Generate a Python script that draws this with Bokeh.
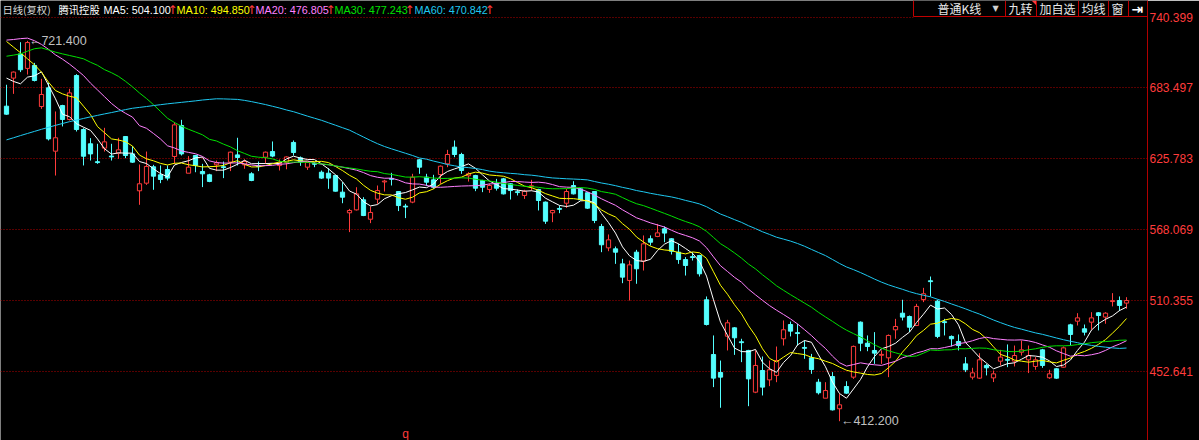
import numpy as np
from bokeh.plotting import figure
from bokeh.models import Range1d, FixedTicker, PrintfTickFormatter
from bokeh.core.properties import value
from bokeh.embed import file_html
from bokeh.resources import INLINE

# ---------------- data ----------------
opens = [668.3, 691.1, 710.8, 699.0, 701.4, 668.0, 683.2, 631.7, 668.8, 657.5,
         693.2, 649.3, 637.7, 622.8, 634.2, 627.4, 630.1, 643.6, 629.5, 599.5,
         605.7, 619.0, 612.5, 616.8, 627.4, 652.6, 613.8, 628.2, 615.2, 612.5,
         620.6, 618.7, 622.8, 628.7, 620.6, 613.3, 619.5, 626.8, 631.4, 620.0,
         622.5, 638.8, 626.3, 618.7, 621.4, 614.6, 613.8, 611.9, 598.4, 581.6,
         584.0, 592.2, 576.4, 592.7, 606.8, 609.2, 598.9, 586.7, 590.3, 624.7,
         610.6, 608.4, 612.7, 621.4, 635.0, 629.0, 611.7, 611.9, 607.9, 600.6,
         605.7, 609.2, 605.2, 598.4, 595.7, 603.0, 600.6, 590.3, 581.6, 584.8,
         589.4, 603.8, 601.1, 597.9, 598.9, 570.5, 553.1, 552.3, 540.1, 526.6,
         549.6, 542.3, 560.5, 562.4, 568.6, 560.5, 549.6, 543.6, 545.6, 546.9,
         510.9, 466.4, 451.8, 481.3, 488.1, 476.4, 469.7, 435.8, 453.4, 445.8,
         449.4, 479.2, 490.8, 483.8, 471.8, 463.7, 443.9, 430.9, 448.5, 422.3,
         440.4, 448.0, 492.7, 475.6, 469.7, 465.9, 463.7, 486.5, 500.0, 497.3,
         490.0, 511.1, 526.0, 509.8, 492.7, 481.1, 477.0, 458.8, 448.0, 447.2,
         457.5, 447.4, 461.0, 462.1, 461.0, 468.3, 462.1, 456.7, 470.2, 447.5,
         454.8, 456.1, 490.5, 493.5, 487.3, 492.7, 500.3, 496.8, 509.5, 510.3,
         508.2]
highs = [685.7, 696.5, 720.3, 721.4, 703.5, 690.5, 687.3, 664.0, 669.4, 682.4,
         694.3, 650.4, 642.3, 637.7, 650.7, 637.7, 642.6, 643.6, 635.8, 620.9,
         631.4, 620.6, 620.1, 620.1, 655.3, 657.2, 627.7, 628.7, 621.4, 613.3,
         624.1, 623.3, 631.4, 642.6, 624.9, 614.6, 623.3, 631.4, 639.6, 625.0,
         627.5, 640.4, 627.4, 623.0, 622.8, 616.0, 617.9, 612.5, 606.5, 584.8,
         602.4, 594.3, 586.7, 603.8, 608.4, 614.1, 599.2, 588.9, 613.3, 625.2,
         613.3, 612.5, 620.1, 632.8, 640.4, 630.4, 614.6, 612.5, 608.4, 605.2,
         609.2, 610.0, 605.7, 600.6, 600.3, 608.4, 601.1, 590.8, 584.0, 587.5,
         601.1, 607.3, 601.9, 598.4, 599.2, 572.6, 564.0, 554.2, 544.2, 542.8,
         551.5, 563.2, 563.2, 572.6, 570.5, 561.0, 556.4, 545.6, 549.6, 547.4,
         513.6, 481.9, 461.5, 494.6, 488.6, 479.2, 470.2, 469.7, 464.8, 461.5,
         472.9, 494.1, 493.2, 491.4, 477.8, 466.9, 446.6, 443.9, 452.1, 434.4,
         444.7, 473.7, 493.3, 481.9, 484.6, 469.7, 482.7, 495.4, 510.9, 498.1,
         507.6, 520.6, 529.8, 510.9, 495.4, 481.9, 482.7, 464.3, 455.6, 467.5,
         458.8, 453.4, 470.2, 474.6, 473.7, 477.8, 473.7, 464.3, 471.0, 454.0,
         455.3, 472.9, 491.4, 500.0, 490.8, 500.8, 500.8, 500.8, 516.3, 513.6,
         513.0]
lows = [661.3, 678.3, 696.0, 694.0, 688.4, 666.1, 640.4, 611.9, 651.8, 656.6,
        647.7, 620.1, 624.1, 621.4, 631.4, 624.1, 625.5, 626.0, 622.2, 588.1,
        604.3, 600.3, 605.7, 607.9, 621.4, 628.2, 613.8, 614.6, 602.5, 606.5,
        615.5, 609.8, 615.5, 620.1, 617.4, 607.3, 615.5, 621.4, 626.8, 616.0,
        617.0, 628.2, 619.8, 616.5, 618.7, 609.2, 601.1, 598.9, 589.4, 565.9,
        583.5, 578.9, 573.2, 588.9, 598.9, 603.8, 583.0, 577.3, 589.4, 613.3,
        603.3, 601.1, 605.2, 618.7, 626.8, 613.3, 607.0, 599.2, 598.4, 597.8,
        599.7, 596.5, 592.4, 595.7, 592.9, 599.7, 583.5, 572.6, 574.0, 581.3,
        585.6, 596.5, 591.6, 584.8, 573.2, 549.6, 550.4, 540.1, 524.4, 510.3,
        523.9, 534.7, 555.0, 561.8, 557.7, 547.7, 540.1, 530.6, 542.8, 529.8,
        490.0, 439.9, 423.1, 469.7, 466.1, 460.2, 424.4, 435.0, 433.1, 440.7,
        443.9, 473.7, 481.1, 473.7, 462.9, 450.7, 433.9, 430.9, 420.9, 412.2,
        434.4, 446.6, 469.1, 469.1, 458.8, 458.8, 448.0, 479.2, 494.1, 484.6,
        489.5, 509.0, 513.6, 479.7, 481.9, 472.9, 469.7, 452.1, 446.1, 446.6,
        449.4, 444.0, 457.5, 456.1, 456.7, 465.6, 451.3, 454.0, 455.6, 446.6,
        446.6, 455.6, 473.7, 490.0, 481.9, 486.5, 486.0, 491.4, 505.5, 501.7,
        503.6]
closes = [661.8, 696.0, 697.9, 720.0, 689.2, 677.8, 641.7, 642.6, 657.5, 679.1,
          649.3, 627.6, 629.5, 622.8, 639.3, 627.4, 632.8, 628.2, 622.8, 605.2,
          619.3, 611.4, 608.7, 609.8, 653.1, 629.5, 618.7, 620.1, 613.3, 607.1,
          622.2, 618.7, 630.9, 626.6, 623.3, 607.9, 619.5, 630.9, 627.7, 622.0,
          627.0, 630.6, 622.8, 622.5, 621.4, 609.8, 609.8, 599.2, 594.3, 583.5,
          597.0, 579.4, 581.9, 599.7, 607.3, 609.2, 587.5, 586.7, 610.6, 618.7,
          606.5, 602.4, 619.5, 629.0, 629.0, 616.0, 613.3, 601.6, 602.4, 603.8,
          601.6, 597.0, 599.7, 598.4, 599.2, 603.4, 591.6, 574.8, 583.5, 584.8,
          598.9, 597.0, 592.2, 585.4, 575.4, 555.6, 559.6, 549.6, 529.3, 539.3,
          536.1, 556.4, 557.7, 565.3, 565.1, 550.4, 543.6, 538.8, 545.6, 532.0,
          490.8, 447.2, 448.0, 492.2, 480.0, 476.4, 446.6, 457.5, 439.9, 454.0,
          461.5, 486.5, 485.4, 483.8, 471.8, 454.2, 435.3, 437.1, 421.4, 425.5,
          435.0, 473.0, 475.6, 472.9, 467.5, 466.4, 481.9, 489.2, 496.8, 488.6,
          505.5, 515.8, 526.0, 481.1, 492.7, 479.2, 473.7, 454.0, 451.5, 462.1,
          455.6, 450.7, 464.3, 462.1, 465.6, 470.2, 465.6, 462.1, 457.5, 450.7,
          447.2, 471.8, 482.7, 496.2, 484.6, 496.2, 498.1, 500.0, 510.1, 506.3,
          510.3]

# moving-average values before enough visible history exists
ma5_head = [691.1, 688.4, 686.5, 691.9]
ma10_head = [720.9, 716.3, 711.7, 706.8, 701.9, 695.9, 687.8, 681.0, 678.3]
ma20_head = [722.0, 722.5, 723.2, 723.6, 721.5, 718.5, 714.5, 710.0, 706.5, 702.5,
             698.0, 693.2, 687.0, 681.5, 676.0, 670.5, 666.0, 662.5, 659.4]
ma30_head = [708.9, 709.8, 710.8, 713.0, 715.0, 715.7, 714.0, 712.2, 710.8, 709.5,
             708.2, 706.8, 704.0, 701.5, 698.0, 695.5, 692.5, 688.5, 684.0, 679.0,
             674.5, 669.5, 664.0, 658.5, 655.0, 652.0, 649.5, 647.3, 645.0]
ma60_head = [640.9, 642.6, 644.4, 646.1, 647.8, 649.5, 651.1, 652.7, 654.2, 655.7,
             657.0, 658.3, 659.6, 660.8, 662.0, 663.1, 664.3, 665.5, 666.6, 667.3,
             668.0, 668.8, 669.5, 670.2, 670.8, 671.4, 672.0, 672.6, 673.3, 673.8,
             674.3, 674.2, 674.0, 673.8, 673.0, 672.0, 670.8, 669.6, 668.2, 666.8,
             665.2, 663.8, 662.0, 660.2, 658.5, 656.8, 654.8, 652.8, 650.8, 648.8,
             646.0, 643.2, 640.4, 637.8, 635.5, 633.6, 631.8, 630.0, 628.2]

ma_periods = [5, 10, 20, 30, 60]
ma_legend_values = [504.100, 494.850, 476.805, 477.243, 470.842]
tick_values = [452.641, 510.355, 568.069, 625.783, 683.497, 740.399]
header_texts = ["日线(复权)", "腾讯控股"]
toolbar_labels = ["普通K线", "九转", "加自选", "均线", "窗"]

# ---------------- derived ----------------
o = np.array(opens); h = np.array(highs); l = np.array(lows); c = np.array(closes)
N = len(c)
idx = np.arange(N)

def moving_average(n, head):
    out = list(head)
    for i in range(len(head), N):
        out.append(float(c[i - n + 1:i + 1].mean()))
    return out

ma_series = [moving_average(5, ma5_head), moving_average(10, ma10_head),
             moving_average(20, ma20_head), moving_average(30, ma30_head),
             moving_average(60, ma60_head)]
ma_colors = ["#ffffff", "#ffff00", "#ff80ff", "#00e000", "#1ec8f0"]

RED = "#ff3c3c"
CYAN = "#54ffff"

# ---------------- layout ----------------
W, H, AXW = 1199, 440, 52
REF_FW, REF_H = 1147.0, 440.0
XL, XR = -6 / 7, (REF_FW - 6) / 7
YB, YT = 396.5, 754.2

def X(px):
    return XL + (XR - XL) * px / REF_FW

def Y(py):
    return YT - (YT - YB) * py / REF_H

p = figure(width=W, height=H, output_backend="svg", toolbar_location=None,
           x_range=Range1d(XL, XR), y_range=Range1d(YB, YT),
           x_axis_location=None, y_axis_location="right",
           min_border_left=0, min_border_top=0, min_border_bottom=0,
           min_border_right=AXW,
           background_fill_color="black", border_fill_color="black",
           outline_line_color=None)

p.xgrid.visible = False
p.ygrid.ticker = FixedTicker(ticks=tick_values)
p.ygrid.grid_line_color = "#b00000"
p.ygrid.grid_line_dash = "1 2"
p.ygrid.grid_line_width = 1

ax = p.yaxis[0]
ax.ticker = FixedTicker(ticks=tick_values)
ax.formatter = PrintfTickFormatter(format="%.3f")
ax.axis_line_color = "#b00000"
ax.major_tick_line_color = None
ax.minor_tick_line_color = None
ax.major_tick_out = 0
ax.major_tick_in = 0
ax.major_label_standoff = 2
ax.major_label_text_color = RED
ax.major_label_text_font = "Liberation Sans"
ax.major_label_text_font_size = "12px"

# ---------------- candles ----------------
top = np.maximum(o, c)
bot = np.minimum(o, c)
mid = (top + bot) / 2
small = (top - bot) < 0.7
btop = np.where(small, mid + 0.35, top)
bbot = np.where(small, mid - 0.35, bot)
up = c > o
dn = ~up
hw = 0.3

p.segment(x0=idx[dn], y0=h[dn], x1=idx[dn], y1=l[dn], line_color=CYAN, line_width=1)
p.quad(left=idx[dn] - hw, right=idx[dn] + hw, top=btop[dn], bottom=bbot[dn],
       fill_color=CYAN, line_color=CYAN, line_width=1)
p.segment(x0=idx[up], y0=h[up], x1=idx[up], y1=btop[up], line_color=RED, line_width=1)
p.segment(x0=idx[up], y0=bbot[up], x1=idx[up], y1=l[up], line_color=RED, line_width=1)
p.quad(left=idx[up] - hw, right=idx[up] + hw, top=btop[up], bottom=bbot[up],
       fill_color="black", line_color=RED, line_width=1)

# ---------------- moving averages ----------------
for series, col in zip(ma_series, ma_colors):
    p.line(idx, series, line_color=col, line_width=1)

# ---------------- extreme annotations ----------------
imax = int(np.argmax(h))
imin = int(np.argmin(l))
p.text(x=[imax + 0.2, imin + 0.2], y=[h[imax], l[imin]],
       text=["\u2190%.3f" % h[imax], "\u2190%.3f" % l[imin]],
       text_color="#c0c0c0", text_font=value("Liberation Sans"),
       text_font_size="12.5px", text_baseline="middle", text_align="left")

p.text(x=[X(405)], y=[Y(433)], text=["q"], text_color=RED,
       text_font=value("Liberation Sans"), text_font_size="12px",
       text_baseline="middle", text_align="center")

# ---------------- header legend ----------------
p.text(x=[X(2), X(58)], y=[Y(8.5), Y(8.5)], text=header_texts,
       text_color=["#d8d8d8", "#ffffff"], text_font=value("Noto Sans CJK SC"),
       text_font_size="10.3px", text_baseline="middle", text_align="left")

leg_x = [103, 176, 255, 334, 414]
arrow_x = [167, 246, 325, 404, 484]
p.text(x=[X(v) for v in leg_x], y=[Y(9)] * 5,
       text=["MA%d: %.3f" % (n, v) for n, v in zip(ma_periods, ma_legend_values)],
       text_color=ma_colors, text_font=value("Liberation Sans"),
       text_font_size="10.8px", text_baseline="middle", text_align="left")
p.text(x=[X(v) for v in arrow_x], y=[Y(9)] * 5, text=["\u2191"] * 5,
       text_color=RED, text_font=value("DejaVu Sans"),
       text_font_size="12px", text_baseline="middle", text_align="left")

# ---------------- top-right button strip ----------------
p.quad(left=X(913), right=X(1147), top=Y(0), bottom=Y(18.5),
       fill_color="black", line_color=None)
BOX = "#c00000"
seps = [913, 1005, 1036, 1078, 1108, 1128]
p.segment(x0=[X(s) for s in seps], y0=[Y(0)] * len(seps),
          x1=[X(s) for s in seps], y1=[Y(16)] * len(seps),
          line_color=BOX, line_width=1)
p.segment(x0=[X(913)], y0=[Y(16)], x1=[X(1147)], y1=[Y(16)],
          line_color=BOX, line_width=1)
p.patch(x=[X(1031), X(1035.5), X(1035.5)], y=[Y(0), Y(0), Y(4.5)],
        fill_color=RED, line_color=None)
p.text(x=[X(937), X(1008), X(1039), X(1081), X(1111)], y=[Y(8)] * 5,
       text=toolbar_labels, text_color="#e8e8e8",
       text_font=value("Noto Sans CJK SC"), text_font_size="12px",
       text_baseline="middle", text_align="left")
p.text(x=[X(992)], y=[Y(8)], text=["\u25bc"], text_color="#d0d0d0",
       text_font=value("DejaVu Sans"), text_font_size="8px",
       text_baseline="middle", text_align="left")
p.text(x=[X(1131)], y=[Y(8)], text=["\u21e5"], text_color="#ffffff",
       text_font=value("DejaVu Sans"), text_font_size="14px",
       text_font_style="bold", text_baseline="middle", text_align="left")

open("out.html", "w").write(file_html(p, INLINE, title="腾讯控股 日线"))
